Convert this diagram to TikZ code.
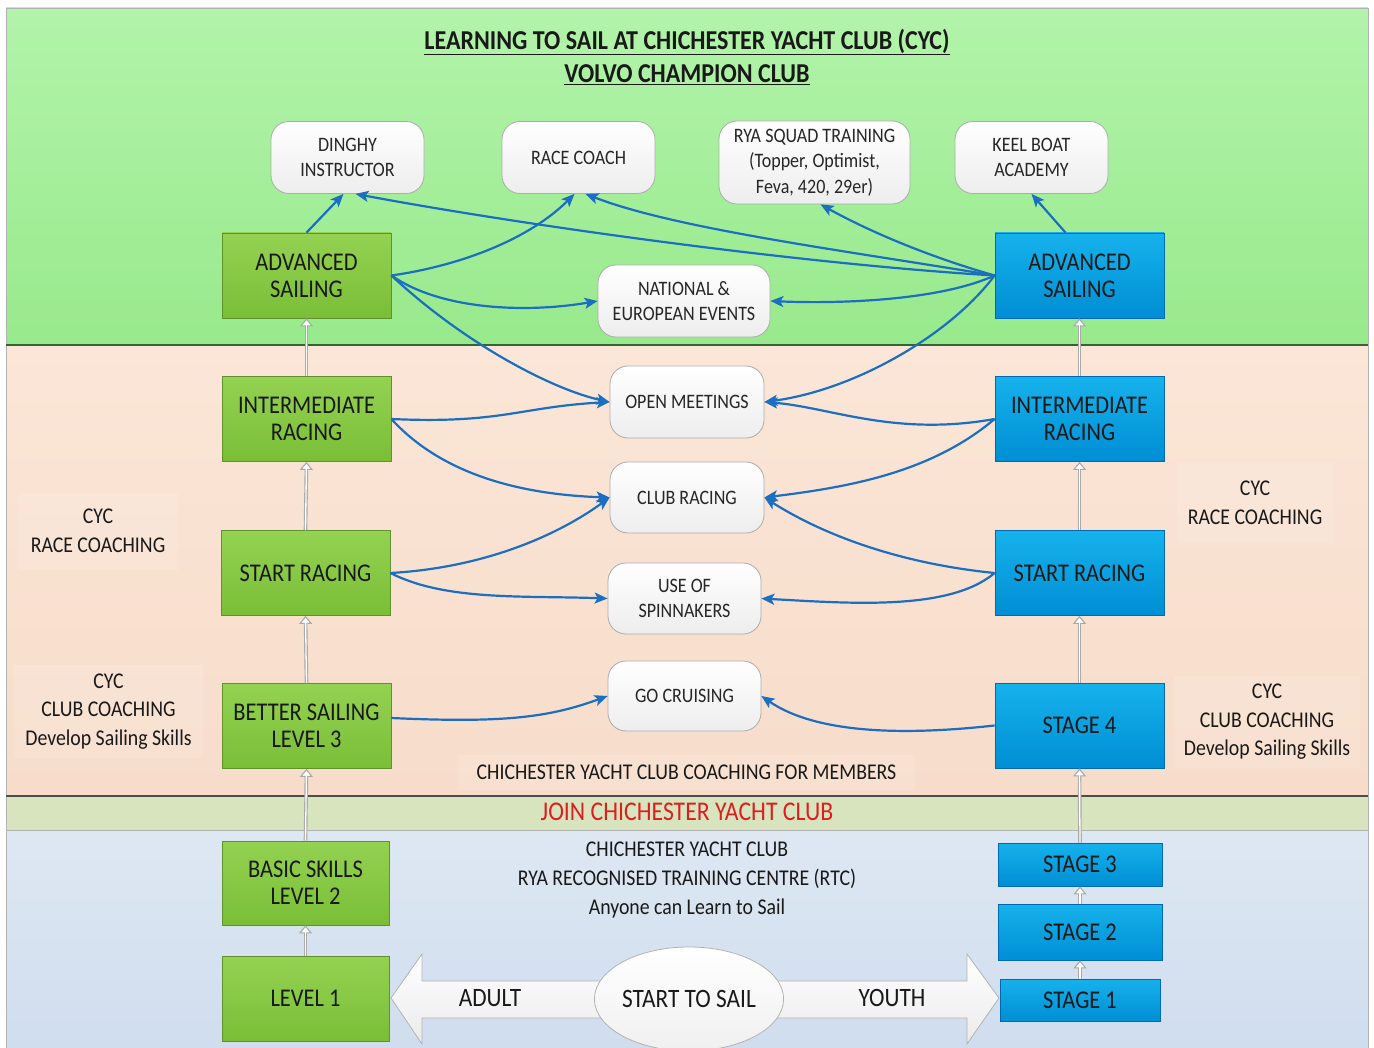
\documentclass[tikz,border=0pt]{standalone}
\usepackage{fontspec}
\setmainfont{Carlito}
\newfontfamily\condfont[FakeStretch=0.88]{Carlito}
\usetikzlibrary{shapes.geometric,arrows.meta,calc}
\definecolor{TopGa}{RGB}{178,244,170}
\definecolor{TopGb}{RGB}{152,233,140}
\definecolor{PeachA}{RGB}{251,230,215}
\definecolor{PeachB}{RGB}{247,220,202}
\definecolor{JoinC}{RGB}{216,228,190}
\definecolor{BotA}{RGB}{222,232,243}
\definecolor{BotB}{RGB}{208,221,238}
\definecolor{GTop}{RGB}{148,210,82}
\definecolor{GBot}{RGB}{122,190,54}
\definecolor{GBorder}{RGB}{95,145,45}
\definecolor{BTop}{RGB}{22,178,236}
\definecolor{BBot}{RGB}{0,142,212}
\definecolor{BBorder}{RGB}{0,105,180}
\definecolor{CBlue}{RGB}{28,110,192}
\definecolor{JoinRed}{RGB}{220,30,30}
\definecolor{UpGrey}{RGB}{170,170,170}
\newcommand\bxfont{\condfont\fontsize{25.5}{27}\selectfont}
\newcommand\rbfont{\condfont\fontsize{20.5}{25.5}\selectfont}
\newcommand\sdfont{\condfont\fontsize{22.5}{28.5}\selectfont}
\newcommand\bigfont{\condfont\fontsize{26.5}{28}\selectfont}
\tikzset{
  gbox/.style={draw=GBorder, line width=0.8pt, top color=GTop, bottom color=GBot, minimum width=169pt, minimum height=85pt, inner sep=0pt, align=center, font=\bxfont, text=black!90},
  bbox/.style={draw=BBorder, line width=0.8pt, top color=BTop, bottom color=BBot, minimum width=169pt, minimum height=85pt, inner sep=0pt, align=center, font=\bxfont, text=black!90},
  rbox/.style={draw=gray!65, line width=0.8pt, top color=white, bottom color=gray!14, rounded corners=18pt, minimum width=153pt, minimum height=72pt, inner sep=0pt, align=center, font=\rbfont, text=black!85},
  sidebox/.style={fill=white, fill opacity=0.13, text opacity=1, inner sep=0pt, align=center, font=\sdfont, text=black!90},
  conn/.style={draw=CBlue, line width=2.2pt, -{Stealth[length=13pt,width=11pt,inset=3pt]}},
  upar/.style={draw=UpGrey, line width=3.6pt, -{Triangle[open,length=8pt,width=13pt,fill=white,line width=1.1pt]},
    postaction={draw=white, line width=1.3pt, -, shorten >=7pt}},
  blockarrow/.style={top color=white, bottom color=gray!16, draw=gray!60, line width=0.8pt}
}
\begin{document}
\begin{tikzpicture}[x=1pt,y=-1pt]
\useasboundingbox (0,0) rectangle (1374,1048);
\fill[white] (0,0) rectangle (1374,1048);
% bands
\shade[top color=TopGa, bottom color=TopGb] (6,8) rectangle (1368,345);
\shade[top color=PeachA, bottom color=PeachB] (6,345) rectangle (1368,796);
\fill[JoinC] (6,796) rectangle (1368,830);
\shade[top color=BotA, bottom color=BotB] (6,830) rectangle (1368,1048);
\draw[gray!60, line width=0.8pt] (6,1048) -- (6,8) -- (1368,8) -- (1368,1048);
\draw[gray!70!green!60!black, line width=1.2pt] (6,345) -- (1368,345);
\draw[black!70, line width=2pt] (6,796) -- (1368,796);
\draw[gray!60, line width=0.8pt] (6,830) -- (1368,830);

% titles
\node[font=\condfont\fontsize{27.3}{28}\selectfont\bfseries, text=black!90] (T1) at (687,42) {\underline{LEARNING TO SAIL AT CHICHESTER YACHT CLUB (CYC)}};
\node[font=\condfont\fontsize{27.3}{28}\selectfont\bfseries, text=black!90] (T2) at (687,75) {\underline{VOLVO CHAMPION CLUB}};

% side labels
\node[sidebox, minimum width=160pt, minimum height=77pt] (LRC) at (98,531) {CYC\\RACE COACHING};
\node[sidebox, minimum width=156pt, minimum height=80pt] (RRC) at (1255,503) {CYC\\RACE COACHING};
\node[sidebox, minimum width=189pt, minimum height=93pt] (LCC) at (108.5,711.5) {CYC\\CLUB COACHING\\Develop Sailing Skills};
\node[sidebox, minimum width=186pt, minimum height=92pt] (RCC) at (1267,722) {CYC\\CLUB COACHING\\Develop Sailing Skills};
\node[sidebox, minimum width=457pt, minimum height=35pt] (Mem) at (686.5,772.5) {CHICHESTER YACHT CLUB COACHING FOR MEMBERS};
\node[font=\condfont\fontsize{27}{28}\selectfont, text=JoinRed] (Join) at (687,812) {JOIN CHICHESTER YACHT CLUB};
\node[font=\condfont\fontsize{22.5}{29}\selectfont, align=center, text=black!90] (RTC) at (687,880) {CHICHESTER YACHT CLUB\\RYA RECOGNISED TRAINING CENTRE (RTC)\\Anyone can Learn to Sail};

% left column
\node[gbox] (LAdv) at (306.5,275.5) {ADVANCED\\SAILING};
\node[gbox] (LInt) at (306.5,419) {INTERMEDIATE\\RACING};
\node[gbox] (LStart) at (305.5,573) {START RACING};
\node[gbox] (LBetter) at (306.5,726) {BETTER SAILING\\LEVEL 3};
\node[gbox, minimum width=167pt, minimum height=84pt] (LBasic) at (305.5,883) {BASIC SKILLS\\LEVEL 2};
\node[gbox, minimum width=167pt] (LL1) at (305.5,998.5) {LEVEL 1};

% right column
\node[bbox] (RAdv) at (1079.5,275.5) {ADVANCED\\SAILING};
\node[bbox] (RInt) at (1079.5,419) {INTERMEDIATE\\RACING};
\node[bbox] (RStart) at (1079.5,573) {START RACING};
\node[bbox] (RS4) at (1079.5,725.5) {STAGE 4};
\node[bbox, minimum width=164pt, minimum height=43pt] (RS3) at (1080,864.5) {STAGE 3};
\node[bbox, minimum width=164pt, minimum height=56pt] (RS2) at (1080,932) {STAGE 2};
\node[bbox, minimum width=160pt, minimum height=42pt] (RS1) at (1080,1000) {STAGE 1};

% grey progression arrows
\draw[upar] (LL1.north) -- (LBasic.south);
\draw[upar] (LBasic.north) -- (LBetter.south);
\draw[upar] (LBetter.north) -- (LStart.south);
\draw[upar] (LStart.north) -- (LInt.south);
\draw[upar] (LInt.north) -- (LAdv.south);
\draw[upar] (RS1.north) -- (RS2.south);
\draw[upar] (RS2.north) -- (RS3.south);
\draw[upar] (RS3.north) -- (RS4.south);
\draw[upar] (RS4.north) -- (RStart.south);
\draw[upar] (RStart.north) -- (RInt.south);
\draw[upar] (RInt.north) -- (RAdv.south);

% rounded boxes
\node[rbox] (Ding) at (347.5,157.5) {DINGHY\\INSTRUCTOR};
\node[rbox] (Race) at (578.5,157.5) {RACE COACH};
\node[rbox, minimum width=191pt, minimum height=83pt] (RYA) at (814.5,162.5) {RYA SQUAD TRAINING\\(Topper, Optimist,\\Feva, 420, 29er)};
\node[rbox] (Keel) at (1031.5,157.5) {KEEL BOAT\\ACADEMY};
\node[rbox, minimum width=172pt] (Nat) at (684,301) {NATIONAL \&\\EUROPEAN EVENTS};
\node[rbox, minimum width=154pt] (Open) at (687,402) {OPEN MEETINGS};
\node[rbox, minimum width=154pt, minimum height=71pt] (Club) at (687,497.5) {CLUB RACING};
\node[rbox, minimum height=71pt] (Spin) at (684.5,598.5) {USE OF\\SPINNAKERS};
\node[rbox, minimum height=70pt] (Cruise) at (684.5,696) {GO CRUISING};

% blue connectors, left
\draw[conn] (LAdv.north) -- ($(Ding.south)+(-4,0)$);
\draw[conn] (LAdv.east) .. controls +(70,-10) and +(-45,45) .. ($(Race.south)+(-4,0)$);
\draw[conn] (LAdv.east) .. controls +(50,35) and +(-70,12) .. (Nat.west);
\draw[conn] (LAdv.east) .. controls +(75,70) and +(-55,-12) .. (Open.west);
\draw[conn] (LInt.east) .. controls +(110,5) and +(-90,5) .. (Open.west);
\draw[conn] (LInt.east) .. controls +(50,55) and +(-90,-3) .. (Club.west);
\draw[conn] (LStart.east) .. controls +(90,-5) and +(-55,40) .. (Club.west);
\draw[conn] (LStart.east) .. controls +(55,28) and +(-85,-3) .. (Spin.west);
\draw[conn] ($(LBetter.east)+(0,-8)$) .. controls +(110,5) and +(-60,22) .. (Cruise.west);
% blue connectors, right
\draw[conn] ($(RAdv.north)+(-14,0)$) -- (Keel.south);
\draw[conn] (RAdv.west) .. controls +(-200,-12) and +(160,30) .. ($(Ding.south)+(8,0)$);
\draw[conn] (RAdv.west) .. controls +(-150,-25) and +(90,35) .. ($(Race.south)+(7,0)$);
\draw[conn] (RAdv.west) .. controls +(-70,-20) and +(45,25) .. ($(RYA.south)+(6,0)$);
\draw[conn] (RAdv.west) .. controls +(-55,25) and +(70,3) .. (Nat.east);
\draw[conn] (RAdv.west) .. controls +(-45,60) and +(90,-12) .. (Open.east);
\draw[conn] (RInt.west) .. controls +(-100,18) and +(65,5) .. (Open.east);
\draw[conn] (RInt.west) .. controls +(-65,55) and +(80,-10) .. (Club.east);
\draw[conn] (RStart.west) .. controls +(-100,-10) and +(55,35) .. (Club.east);
\draw[conn] (RStart.west) .. controls +(-45,38) and +(90,5) .. (Spin.east);
\draw[conn] (RS4.west) .. controls +(-90,10) and +(55,38) .. (Cruise.east);

% start to sail block arrows
\path[blockarrow] (391,998) -- (422,954) -- (422,981) -- (620,981) -- (620,1018) -- (422,1018) -- (422,1044) -- cycle;
\path[blockarrow] (760,981) -- (967,981) -- (967,954) -- (999,998) -- (967,1044) -- (967,1018) -- (760,1018) -- cycle;
\node[font=\bigfont, text=black!90] (Adult) at (490,998) {ADULT};
\node[font=\bigfont, text=black!90] (Youth) at (892,998) {YOUTH};
\node[ellipse, draw=gray!60, line width=0.8pt, top color=white, bottom color=gray!12, minimum width=184pt, minimum height=104pt, inner sep=0pt, font=\bigfont, text=black!90] (STS) at (689,999) {START TO SAIL};
\end{tikzpicture}
\end{document}
